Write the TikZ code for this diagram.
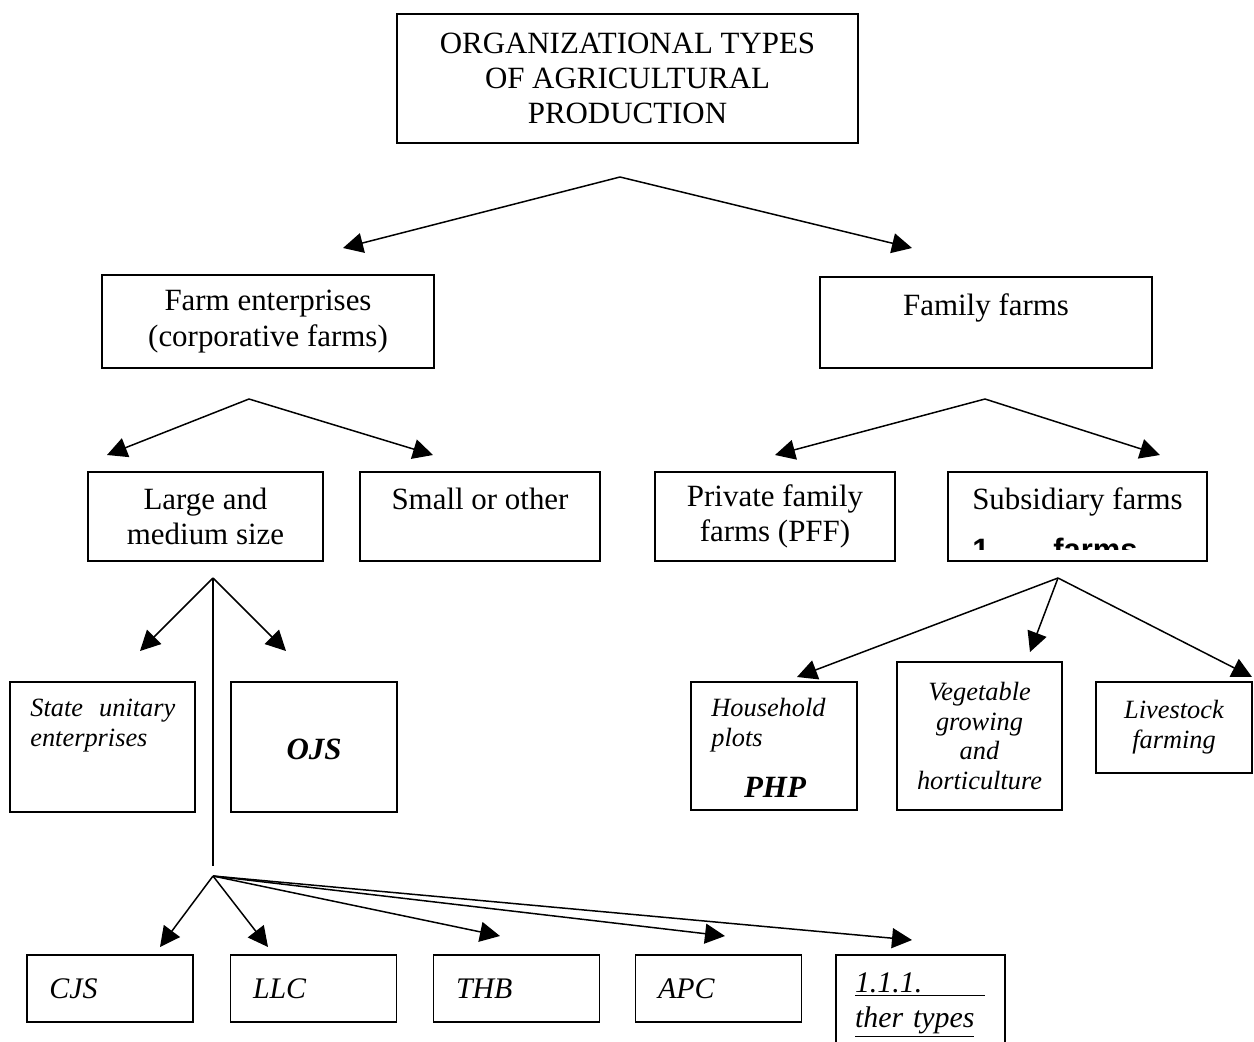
\documentclass[tikz,border=0pt]{standalone}
\usepackage{fontspec}
\setmainfont{Liberation Serif}
\newfontfamily\arialfont{Liberation Sans}
\usepackage{tikz}
\usetikzlibrary{arrows.meta, positioning}
\newcommand{\bigfont}{\fontsize{17.6}{20}\selectfont}
\newcommand{\smitfont}{\fontsize{15}{17}\selectfont\itshape}
\newcommand{\btmfont}{\fontsize{17}{20}\selectfont\itshape}
\newcommand{\bifont}{\fontsize{17.6}{20}\selectfont\bfseries\itshape}

\begin{document}
\begin{tikzpicture}[
  every node/.style={font=\bigfont},
  box/.style={draw, line width=0.8pt, inner sep=0pt, align=center},
  itbox/.style={box, font=\smitfont},
  btmbox/.style={draw, line width=0.8pt, minimum height=1.34cm, inner ysep=0pt,
                 inner xsep=0.45cm, text width=2.42cm, align=left, font=\btmfont},
  txt/.style={inner sep=0pt, font=\smitfont},
  arr/.style={-{Triangle[length=0.4cm, width=0.4cm]}, line width=0.85pt},
  stem/.style={line width=0.85pt},
]
\clip (0,0) rectangle (25.08,-20.84);

%% ── ROOT ──────────────────────────────────────────────────────────────
\node[box, minimum width=9.22cm, minimum height=2.58cm]
  (orgtypes) at (12.55,-1.57) {ORGANIZATIONAL TYPES\\OF AGRICULTURAL\\PRODUCTION};

%% ── LEVEL 1 ───────────────────────────────────────────────────────────
\node[box, minimum width=6.64cm, minimum height=1.86cm]
  (farment) at (5.36,-6.43) {Farm enterprises\\(corporative farms)};
\node[box, minimum width=6.64cm, minimum height=1.82cm]
  (familyf) at (19.72,-6.45) {Family farms\\\mbox{}};

%% ── LEVEL 2 ───────────────────────────────────────────────────────────
\node[box, minimum width=4.7cm, minimum height=1.78cm]
  (largemed) at (4.11,-10.33) {Large and\\medium size};
\node[box, minimum width=4.8cm, minimum height=1.78cm]
  (smallot) at (9.6,-10.33) {Small or other\\\mbox{}};
\node[box, minimum width=4.8cm, minimum height=1.78cm]
  (pff) at (15.5,-10.33) {Private family\\farms (PFF)};
\node[box, minimum width=5.18cm, minimum height=1.78cm]
  (subsid) at (21.55,-10.33) {Subsidiary farms\\\mbox{}};

% cut-off line inside the subsidiary box
\begin{scope}
\clip (18.97,-9.45) rectangle (24.13,-10.98);
\node[inner sep=0pt, anchor=base west, font=\fontsize{17.6}{20}\selectfont\arialfont\bfseries]
  (subone) at (19.44,-11.2) {1};
\node[inner sep=0pt, anchor=base west, font=\fontsize{17.6}{20}\selectfont\arialfont\bfseries]
  (subfarms) at (21.06,-11.2) {farms};
\end{scope}

%% ── LEVEL 3: LARGE AND MEDIUM ─────────────────────────────────────────
\node[box, minimum width=3.7cm, minimum height=2.6cm] (stateu) at (2.05,-14.94) {};
\node[txt, anchor=north west, text width=2.9cm]
  (stateutxt) at (0.6,-13.98) {State\hfill unitary\\enterprises};
\node[box, minimum width=3.32cm, minimum height=2.6cm] (ojs) at (6.28,-14.94) {};
\node[inner sep=0pt, font=\bifont] (ojstxt) at (6.28,-14.98) {OJS};

%% ── LEVEL 3: SUBSIDIARY ───────────────────────────────────────────────
\node[box, minimum width=3.32cm, minimum height=2.56cm] (household) at (15.48,-14.92) {};
\node[txt, anchor=north west, align=left]
  (householdtxt) at (14.22,-13.96) {Household\\plots};
\node[inner sep=0pt, font=\bifont] (php) at (15.5,-15.74) {PHP};
\node[itbox, minimum width=3.3cm, minimum height=2.96cm]
  (vegetable) at (19.59,-14.72) {Vegetable\\growing\\and\\horticulture};
\node[itbox, minimum width=3.12cm, minimum height=1.82cm]
  (livestock) at (23.48,-14.55) {Livestock\\farming};

%% ── LEVEL 4 ───────────────────────────────────────────────────────────
\node[btmbox] (cjs) at (2.2,-19.77)   {CJS};
\node[btmbox] (llc) at (6.27,-19.77)  {LLC};
\node[btmbox] (thb) at (10.33,-19.77) {THB};
\node[btmbox] (apc) at (14.37,-19.77) {APC};
\node[btmbox, minimum height=2.0cm, inner xsep=0.38cm, text width=2.62cm]
  (othertypes) at (18.41,-20.1) {\underline{1.1.1.\hspace{1.25cm}}\\\underline{ther types}};

%% ═════════════════════════════════════════════════════════════════════
%% ARROWS
%% ═════════════════════════════════════════════════════════════════════
\coordinate (orgapex) at (12.4,-3.54);
\coordinate (orgL)    at (6.86,-4.96);
\coordinate (orgR)    at (18.24,-4.96);

\coordinate (feapex)  at (4.98,-7.98);
\coordinate (feL)     at (2.14,-9.1);
\coordinate (feR)     at (8.66,-9.1);

\coordinate (ffapex)  at (19.7,-7.98);
\coordinate (ffL)     at (15.5,-9.1);
\coordinate (ffR)     at (23.2,-9.1);

\coordinate (lmapex)  at (4.26,-11.56);
\coordinate (lmL)     at (2.8,-13.02);
\coordinate (lmR)     at (5.72,-13.02);
\coordinate (lmstem)  at (4.26,-17.32);

\coordinate (sfapex)  at (21.16,-11.56);
\coordinate (sfL)     at (15.94,-13.54);
\coordinate (sfM)     at (20.6,-13.04);
\coordinate (sfR)     at (25.04,-13.54);

\coordinate (btapex)  at (4.26,-17.52);
\coordinate (btcjs)   at (3.2,-18.94);
\coordinate (btllc)   at (5.36,-18.94);
\coordinate (btthb)   at (10.0,-18.72);
\coordinate (btapc)   at (14.5,-18.72);
\coordinate (btoth)   at (18.24,-18.8);

%% Root → level 1
\draw[arr] (orgapex) -- (orgL);
\draw[arr] (orgapex) -- (orgR);

%% Farm enterprises → sizes
\draw[arr] (feapex) -- (feL);
\draw[arr] (feapex) -- (feR);

%% Family farms → PFF / subsidiary
\draw[arr] (ffapex) -- (ffL);
\draw[arr] (ffapex) -- (ffR);

%% Large and medium → state / OJS, stem down
\draw[arr] (lmapex) -- (lmL);
\draw[arr] (lmapex) -- (lmR);
\draw[stem] (lmapex) -- (lmstem);

%% Subsidiary → plot types
\draw[arr] (sfapex) -- (sfL);
\draw[arr] (sfapex) -- (sfM);
\draw[arr] (sfapex) -- (sfR);

%% Stem → legal forms
\foreach \tip in {btcjs, btllc, btthb, btapc, btoth}
  \draw[arr] (btapex) -- (\tip);

\end{tikzpicture}
\end{document}
